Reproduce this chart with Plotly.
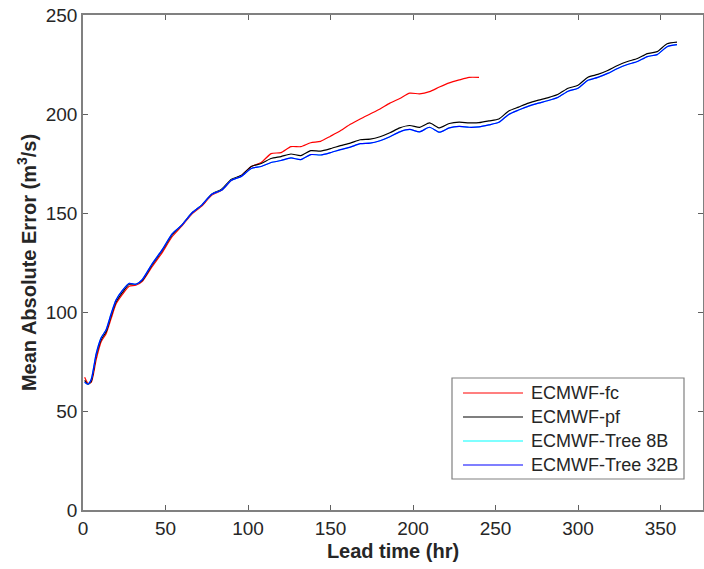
import plotly.graph_objects as go

# ---------------- data ----------------
lead_time = [1, 3, 5, 8, 11, 14, 17, 20, 24, 28, 32, 36,
             42, 48, 54, 60, 66, 72, 78, 84, 90, 96,
             102, 108, 114, 120, 126, 132, 138, 144, 150,
             156, 162, 168, 174, 180, 186, 192, 198, 204,
             210, 216, 222, 228, 234, 240, 246, 252, 258,
             264, 270, 276, 282, 288, 294, 300, 306, 312,
             318, 324, 330, 336, 342, 348, 354, 360]

lead_time_fc = [1, 3, 5, 8, 11, 14, 17, 20, 24, 28, 32, 36,
                42, 48, 54, 60, 66, 72, 78, 84, 90, 96,
                102, 108, 114, 120, 126, 132, 138, 144, 150,
                156, 162, 168, 174, 180, 186, 192, 198, 204,
                210, 216, 222, 228, 234, 240]

mae_fc = [67, 64, 64.5, 76, 85, 89, 96.5, 104, 109, 113, 113.5, 115.5,
          123, 130, 138, 143.5, 149.5, 153.5, 159, 161.5, 166.5, 169,
          173.5, 175.5, 180, 180.5, 183.5, 183.5, 185.5, 186.2, 188.8,
          191.5, 194.8, 197.5, 200, 202.5, 205.5, 207.8, 210.5, 210.2,
          211.3, 213.6, 215.7, 217.2, 218.5, 218.5]

mae_pf = [65.5, 63.5, 65, 78, 86, 90, 98, 105, 110, 114, 114, 116,
          124, 131, 139, 144, 150, 154, 159.5, 162, 167, 169,
          173.5, 175, 177.5, 178.5, 179.8, 179, 181.5, 181.3, 182.5,
          184, 185.3, 187, 187.3, 188.5, 190.5, 193, 194.2, 193.2,
          195.5, 193, 195.2, 195.9, 195.5, 195.6, 196.5, 197.5, 201.5,
          203.5, 205.5, 207, 208.3, 210, 213, 214.5, 218.6, 220,
          222, 224.5, 226.5, 228, 230.5, 231.5, 235.5, 236.3]

mae_tree8b = [64.5, 63.5, 66, 79, 87, 91, 99, 106, 111, 114.5, 114, 116.5,
              124.5, 131.5, 139.5, 144, 150, 154, 159.5, 161.5, 166.5, 168.5,
              172.5, 173.5, 175.5, 176.5, 177.8, 177, 179.5, 179.3, 180.5,
              182, 183.3, 185, 185.3, 186.5, 188.5, 191, 192.2, 191,
              193.3, 190.8, 193, 193.7, 193.3, 193.5, 194.5, 195.8, 199.8,
              202, 204, 205.5, 206.8, 208.5, 211.5, 213, 217, 218.5,
              220.5, 223, 225, 226.5, 229, 230, 234, 235]

mae_tree32b = [64.5, 63.5, 66, 79, 87, 91, 99, 106, 111, 114.5, 114, 116.5,
               124.5, 131.5, 139.5, 144, 150, 154, 159.5, 161.5, 166.5, 168.5,
               172.5, 173.5, 175.5, 176.5, 177.8, 177, 179.5, 179.3, 180.5,
               182, 183.3, 185, 185.3, 186.5, 188.5, 191, 192.2, 191,
               193.3, 190.8, 193, 193.7, 193.3, 193.5, 194.5, 195.8, 199.8,
               202, 204, 205.5, 206.8, 208.5, 211.5, 213, 217, 218.5,
               220.5, 223, 225, 226.5, 229, 230, 234, 235]

series_names = ["ECMWF-fc", "ECMWF-pf", "ECMWF-Tree 8B", "ECMWF-Tree 32B"]
series_colors = ["#ff0000", "#000000", "#00ffff", "#0000ff"]
x_ticks = [0, 50, 100, 150, 200, 250, 300, 350]
y_ticks = [0, 50, 100, 150, 200, 250]

# ---------------- figure ----------------
W, H = 704, 569
ML, MR, MT, MB = 83, 1, 15, 59
PW, PH = W - ML - MR, H - MT - MB
FONT = "Liberation Sans, Arial, Helvetica, sans-serif"

xs = [lead_time_fc, lead_time, lead_time, lead_time]
ys = [mae_fc, mae_pf, mae_tree8b, mae_tree32b]

fig = go.Figure()
for name, color, x, y in zip(series_names, series_colors, xs, ys):
    fig.add_trace(go.Scatter(x=x, y=y, mode="lines", name=name,
                             line=dict(color=color, width=1.2, shape="spline", smoothing=0.6),
                             showlegend=False))

axis_common = dict(showline=True, linecolor="#808080", linewidth=1.5, mirror="ticks",
                   ticks="inside", ticklen=5, tickcolor="#606060", tickwidth=1,
                   showgrid=False, zeroline=False,
                   tickfont=dict(family=FONT, size=19, color="#262626"))

fig.update_xaxes(range=[0, PW / 1.65], tickvals=x_ticks,
                 title=dict(text="<b>Lead time (hr)</b>",
                            font=dict(family=FONT, size=20, color="#262626"), standoff=6),
                 **axis_common)
fig.update_yaxes(range=[0, 250], tickvals=y_ticks,
                 title=dict(text="<b>Mean Absolute Error (m<sup>3</sup>/s)</b>",
                            font=dict(family=FONT, size=20, color="#262626"), standoff=4),
                 **axis_common)

# custom MATLAB-style legend box
def px2x(px):
    return (px - ML) / PW

def py2y(py):
    return (H - MB - py) / PH

box_l, box_r, box_t, box_b = 452, 684, 378, 479
fig.add_shape(type="rect", xref="paper", yref="paper",
              x0=px2x(box_l), x1=px2x(box_r), y0=py2y(box_b), y1=py2y(box_t),
              line=dict(color="#808080", width=1.2), fillcolor="white", layer="above")
row_y = [393, 417, 441, 465]
for name, color, ry in zip(series_names, series_colors, row_y):
    fig.add_shape(type="line", xref="paper", yref="paper",
                  x0=px2x(463), x1=px2x(523), y0=py2y(ry), y1=py2y(ry),
                  line=dict(color=color, width=1.2), layer="above")
    fig.add_annotation(xref="paper", yref="paper", x=px2x(529), y=py2y(ry),
                       xanchor="left", yanchor="middle", showarrow=False,
                       text=name, font=dict(family=FONT, size=18, color="#262626"))

fig.update_layout(width=W, height=H, margin=dict(l=ML, r=MR, t=MT, b=MB, autoexpand=False),
                  plot_bgcolor="white", paper_bgcolor="white", showlegend=False)

fig.write_html("out.html")
